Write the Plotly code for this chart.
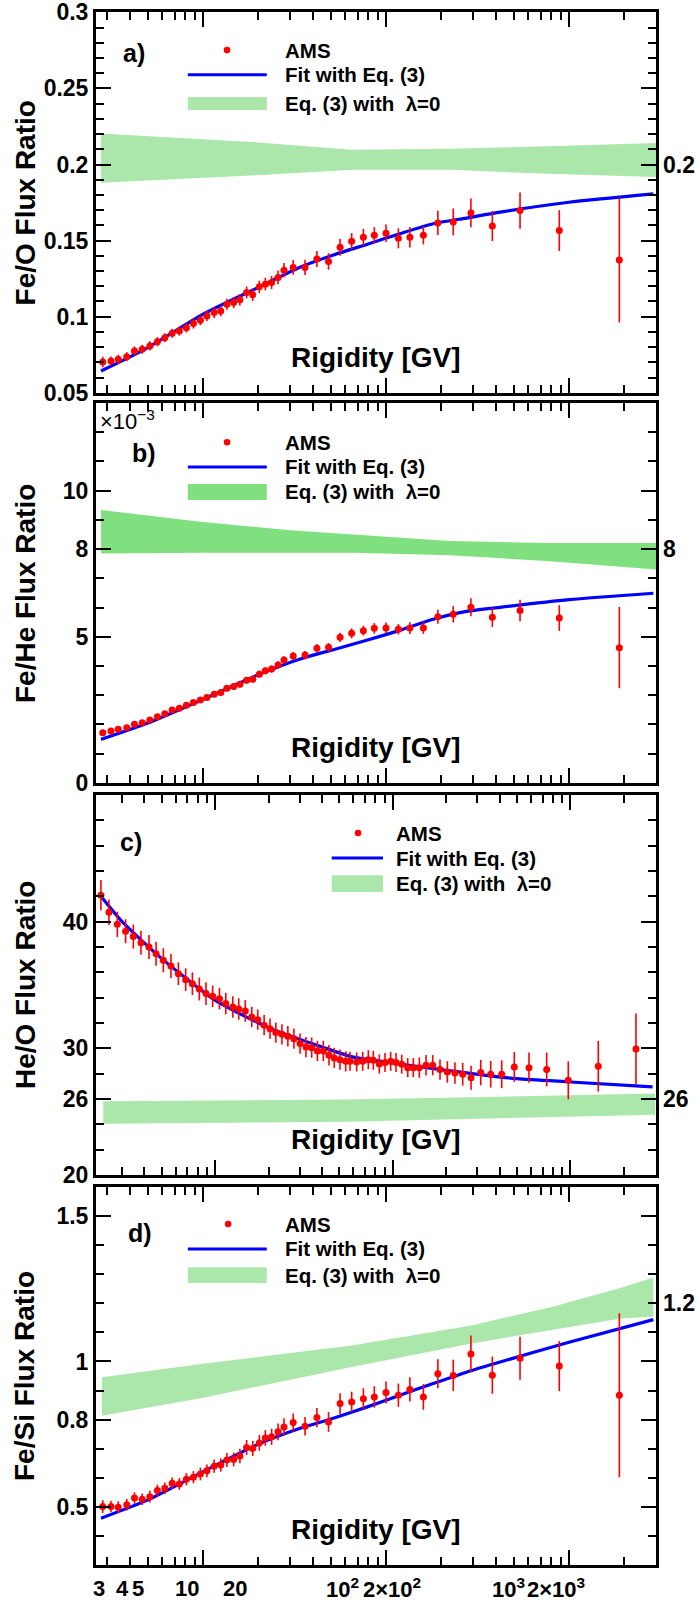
import plotly.graph_objects as go

FONT = "Liberation Sans, Arial, Helvetica, sans-serif"

# ---------------- data ----------------
# Rigidity bin centres (GV) for the Fe ratios (panels a, b, d)
rig_fe = [2.83, 3.14, 3.44, 3.83, 4.22, 4.65, 5.12, 5.63, 6.18, 6.78, 7.42, 8.11, 8.86, 9.67,
          10.5, 11.5, 12.5, 13.5, 14.7, 15.9, 17.3, 18.7, 20.3, 21.9, 23.7, 25.7, 27.7,
          31.1, 36.1, 41.9, 48.5, 56.1, 64.9, 75.2, 86.3, 100, 116.8, 135, 160, 192, 233,
          291, 381, 540, 885, 1884]

fe_o = [0.0702, 0.0709, 0.0720, 0.0737, 0.0775, 0.0786, 0.0808, 0.0836, 0.0862, 0.0891,
        0.0906, 0.0928, 0.0955, 0.0977, 0.1005, 0.1027, 0.1038, 0.1082, 0.1093, 0.1111,
        0.1159, 0.1144, 0.1196, 0.1214, 0.1225, 0.1258, 0.1306, 0.1324, 0.1324, 0.1379,
        0.1363, 0.1456, 0.1495, 0.1522, 0.1535, 0.1548, 0.1515, 0.1522, 0.1535, 0.1616,
        0.1623, 0.1682, 0.1596, 0.1697, 0.1566, 0.1372]
fe_o_err = [0.0035, 0.003, 0.003, 0.003, 0.003, 0.003, 0.003, 0.003, 0.003, 0.003, 0.003,
            0.0032, 0.0033, 0.0033, 0.0034, 0.0035, 0.0035, 0.0036, 0.0037, 0.0038, 0.0039,
            0.004, 0.0041, 0.0042, 0.0043, 0.0045, 0.0047, 0.0048, 0.005, 0.0052, 0.0054,
            0.0056, 0.0055, 0.0055, 0.0053, 0.0058, 0.0066, 0.0068, 0.006, 0.008, 0.0088,
            0.0095, 0.0099, 0.0119, 0.0134, 0.041]

fe_he_e3 = [1.718, 1.775, 1.833, 1.890, 2.005, 2.062, 2.153, 2.268, 2.371, 2.497, 2.554,
            2.658, 2.749, 2.841, 2.921, 3.035, 3.093, 3.242, 3.299, 3.379, 3.517, 3.551,
            3.723, 3.837, 3.895, 4.032, 4.204, 4.341, 4.376, 4.605, 4.639, 4.983, 5.12, 5.21,
            5.29, 5.30, 5.26, 5.30, 5.30, 5.69, 5.77, 6.01, 5.67, 5.90, 5.64, 4.63]
fe_he_err_e3 = [0.10, 0.09, 0.09, 0.09, 0.09, 0.09, 0.09, 0.09, 0.09, 0.09, 0.09, 0.10, 0.10,
                0.10, 0.10, 0.10, 0.10, 0.11, 0.11, 0.11, 0.11, 0.12, 0.12, 0.12, 0.12, 0.13,
                0.13, 0.14, 0.14, 0.15, 0.15, 0.16, 0.17, 0.17, 0.18, 0.19, 0.18, 0.20, 0.20,
                0.24, 0.28, 0.31, 0.33, 0.37, 0.44, 1.39]

fe_si = [0.501, 0.501, 0.499, 0.507, 0.530, 0.526, 0.535, 0.556, 0.564, 0.581, 0.579, 0.595,
         0.602, 0.613, 0.624, 0.640, 0.644, 0.661, 0.663, 0.675, 0.704, 0.701, 0.720, 0.737,
         0.741, 0.758, 0.775, 0.790, 0.777, 0.807, 0.792, 0.855, 0.861, 0.872, 0.878, 0.893,
         0.884, 0.904, 0.878, 0.958, 0.952, 1.026, 0.953, 1.011, 0.984, 0.884]
fe_si_err = [0.022, 0.02, 0.02, 0.02, 0.02, 0.02, 0.02, 0.02, 0.02, 0.02, 0.02, 0.021, 0.021,
             0.022, 0.022, 0.023, 0.023, 0.024, 0.024, 0.025, 0.026, 0.026, 0.027, 0.027,
             0.028, 0.029, 0.03, 0.031, 0.032, 0.033, 0.034, 0.036, 0.035, 0.036, 0.037,
             0.038, 0.04, 0.042, 0.044, 0.05, 0.054, 0.063, 0.064, 0.074, 0.086, 0.282]

# He/O uses the finer binning (panel c)
rig_heo = [2.28, 2.53, 2.82, 3.14, 3.47, 3.83, 4.25, 4.66, 5.12, 5.65, 6.22, 6.84, 7.46, 8.16,
           8.90, 9.70, 10.6, 11.5, 12.6, 13.6, 14.8, 16.1, 17.4, 18.9, 20.4, 22.0, 23.8, 25.7,
           27.8, 30.1, 32.5, 35.0, 37.7, 40.7, 43.8, 46.9, 50.5, 54.4, 57.5, 62.7, 67.8, 72.9,
           77.8, 84.1, 90.5, 97.4, 104.4, 112.4, 121.5, 130.6, 141.2, 154, 168, 184.6, 203,
           224, 247.7, 276, 313, 356, 410.6, 483.4, 584.8, 735.6, 973, 1435, 2339]
he_o = [42.08, 40.74, 39.79, 39.24, 38.82, 38.34, 38.0, 37.47, 36.95, 36.5, 35.89, 35.42,
        35.1, 34.68, 34.32, 34.1, 33.92, 33.53, 33.26, 33.1, 32.95, 32.47, 32.26, 31.82, 31.55,
        31.24, 31.1, 30.95, 30.76, 30.37, 30.1, 30.05, 29.79, 29.79, 29.45, 29.24, 29.1, 28.97,
        28.97, 28.92, 28.97, 29.1, 29.05, 28.76, 28.87, 28.97, 28.87, 28.74, 28.47, 28.47,
        28.47, 28.66, 28.66, 28.32, 28.13, 28.05, 27.95, 27.68, 28.08, 27.95, 27.95, 28.53,
        28.47, 28.32, 27.47, 28.58, 29.95]
he_o_err = [1.2, 1.0, 1.0, 0.95, 0.95, 0.95, 0.95, 0.95, 0.95, 0.95, 0.9, 0.9, 0.9, 0.9, 0.9,
            0.85, 0.85, 0.85, 0.85, 0.85, 0.85, 0.8, 0.8, 0.8, 0.8, 0.8, 0.8, 0.8, 0.8, 0.8,
            0.8, 0.8, 0.8, 0.8, 0.8, 0.8, 0.8, 0.8,
            0.75, 0.75, 0.75, 0.75, 0.75, 0.75, 0.75, 0.75, 0.75, 0.75, 0.75, 0.75, 0.8, 0.8,
            0.8, 0.8, 0.85, 0.85, 0.9, 0.95, 1.0, 1.05, 1.1, 1.18, 1.2, 1.34, 1.5, 2.0, 2.8]

# Fits with Eq. (3)
fit_rig = [2.77, 5, 10, 20, 33.9, 51.5, 78.4, 119, 181, 275, 420, 1000, 2890]
fit_fe_o = [0.0643, 0.0797, 0.1016, 0.1192, 0.1325, 0.1405, 0.1475, 0.1545, 0.1611, 0.1648,
            0.1687, 0.1752, 0.1807]
fit_fe_he_e3 = [1.49, 2.05, 2.86, 3.70, 4.24, 4.56, 4.88, 5.22, 5.60, 5.87, 6.01, 6.27, 6.49]
fit_fe_si = [0.461, 0.524, 0.621, 0.715, 0.770, 0.805, 0.843, 0.884, 0.924, 0.963, 0.998,
             1.066, 1.144]
fit_rig_heo = [2.28, 3, 5, 10, 20, 40, 60, 100, 200, 500, 1000, 2900]
fit_he_o = [42.0, 40.0, 37.1, 33.8, 31.63, 30.1, 29.3, 28.84, 28.26, 27.6, 27.34, 26.95]

# Eq. (3) with lambda = 0 (bands: upper / lower edges)
band_rig_a = [2.77, 20, 65, 224, 787, 3000]
band_fe_o_hi = [0.2203, 0.2145, 0.2097, 0.2104, 0.212, 0.2141]
band_fe_o_lo = [0.188, 0.193, 0.1965, 0.1965, 0.1939, 0.1917]
band_rig_b = [2.77, 10, 30, 65, 224, 787, 3000]
band_fe_he_hi_e3 = [9.34, 8.93, 8.65, 8.51, 8.28, 8.21, 8.21]
band_fe_he_lo_e3 = [7.85, 7.88, 7.88, 7.88, 7.79, 7.59, 7.30]
band_rig_c = [2.35, 55, 3000]
band_he_o_hi = [25.82, 25.95, 26.42]
band_he_o_lo = [24.05, 24.2, 24.76]
band_rig_d = [2.8, 10, 65, 288, 787, 1884, 2890]
band_fe_si_hi = [0.946, 0.992, 1.055, 1.123, 1.186, 1.252, 1.289]
band_fe_si_lo = [0.813, 0.875, 0.981, 1.061, 1.107, 1.147, 1.155]

# ---------------- styling ----------------
RED = "#FF0000"
BLUE = "#0000FF"
GREEN_LIGHT = "#ABE7AB"
GREEN_B = "#80E080"
TICK_SIZE = 23
LEG_SIZE = 20.5

panels = [
    dict(n=1, rig=rig_fe, y=fe_o, err=fe_o_err, frig=fit_rig, fy=fit_fe_o,
         brig=band_rig_a, bhi=band_fe_o_hi, blo=band_fe_o_lo, green=GREEN_LIGHT,
         dom=[0.7547, 1.0], yr=[0.0499, 0.3002], xr=[0.4150, 3.4754],
         ytv=[0.05, 0.1, 0.15, 0.2, 0.25, 0.3], ytt=["0.05", "0.1", "0.15", "0.2", "0.25", "0.3"],
         ydt=0.01, title="Fe/O Flux Ratio", tag="a)", tagx=0.068, tagy=0.892,
         right=("0.2", 0.2),
         leg=dict(mx=0.234, lx0=0.164, lx1=0.305, tx=0.334, rows=[0.900, 0.835, 0.760],
                  b0=0.743, b1=0.777)),
    dict(n=2, rig=rig_fe, y=fe_he_e3, err=fe_he_err_e3, frig=fit_rig, fy=fit_fe_he_e3,
         brig=band_rig_b, bhi=band_fe_he_hi_e3, blo=band_fe_he_lo_e3, green=GREEN_B,
         dom=[0.5035, 0.7482], yr=[-0.005, 13], xr=[0.4150, 3.4754],
         ytv=[0, 5, 8, 10], ytt=["0", "5", "8", "10"],
         ydt=1, title="Fe/He Flux Ratio", tag="b)", tagx=0.086, tagy=0.868,
         right=("8", 8),
         leg=dict(mx=0.234, lx0=0.164, lx1=0.305, tx=0.334, rows=[0.897, 0.832, 0.766],
                  b0=0.745, b1=0.787)),
    dict(n=3, rig=rig_heo, y=he_o, err=he_o_err, frig=fit_rig_heo, fy=fit_he_o,
         brig=band_rig_c, bhi=band_he_o_hi, blo=band_he_o_lo, green=GREEN_LIGHT,
         dom=[0.2511, 0.4958], yr=[19.99, 50], xr=[0.3303, 3.4817],
         ytv=[20, 26, 30, 40], ytt=["20", "26", "30", "40"],
         ydt=2, title="He/O Flux Ratio", tag="c)", tagx=0.0625, tagy=0.876,
         right=("26", 26),
         leg=dict(mx=0.468, lx0=0.421, lx1=0.5125, tx=0.532, rows=[0.900, 0.834, 0.767],
                  b0=0.745, b1=0.789)),
    dict(n=4, rig=rig_fe, y=fe_si, err=fe_si_err, frig=fit_rig, fy=fit_fe_si,
         brig=band_rig_d, bhi=band_fe_si_hi, blo=band_fe_si_lo, green=GREEN_LIGHT,
         dom=[0.0, 0.2434], yr=[0.3, 1.6], xr=[0.4150, 3.4754],
         ytv=[0.5, 0.8, 1.0, 1.5], ytt=["0.5", "0.8", "1", "1.5"],
         ydt=0.1, title="Fe/Si Flux Ratio", tag="d)", tagx=0.079, tagy=0.878,
         right=("1.2", 1.2),
         leg=dict(mx=0.236, lx0=0.164, lx1=0.305, tx=0.334, rows=[0.902, 0.836, 0.767],
                  b0=0.746, b1=0.788)),
]

minor_x = [m * 10 ** e for e in range(0, 4) for m in range(2, 10)]

fig = go.Figure()
annotations = []
shapes = []

PLOT_W = 698 - 96 - 42
PLOT_H = 1602 - 12 - 37
for p in panels:
    n = p["n"]
    s = "" if n == 1 else str(n)
    xa, ya = "x" + s, "y" + s

    # band
    fig.add_trace(go.Scatter(
        x=p["brig"] + p["brig"][::-1], y=p["bhi"] + p["blo"][::-1],
        fill="toself", fillcolor=p["green"], mode="lines", line=dict(width=0),
        hoverinfo="skip", showlegend=False, xaxis=xa, yaxis=ya))
    # fit
    fig.add_trace(go.Scatter(
        x=p["frig"], y=p["fy"], mode="lines",
        line=dict(color=BLUE, width=3.2, shape="spline", smoothing=0.6),
        showlegend=False, xaxis=xa, yaxis=ya))
    # data
    fig.add_trace(go.Scatter(
        x=p["rig"], y=p["y"], mode="markers",
        marker=dict(color=RED, size=7),
        error_y=dict(type="data", array=p["err"], visible=True, color=RED,
                     thickness=1.6, width=0),
        showlegend=False, xaxis=xa, yaxis=ya))

    xkw = dict(type="log", range=p["xr"], domain=[0, 1], anchor=ya, automargin=False,
               showline=True, linewidth=3, linecolor="black", mirror="allticks",
               ticks="inside", ticklen=15, tickwidth=2, tickcolor="black",
               tickvals=[10, 100, 1000], showticklabels=False, showgrid=False,
               zeroline=False,
               minor=dict(tickmode="array", tickvals=minor_x, ticks="inside",
                          ticklen=8, tickwidth=2, tickcolor="black", showgrid=False))
    ykw = dict(range=p["yr"], domain=p["dom"], anchor=xa, automargin=False,
               showline=True, linewidth=3, linecolor="black", mirror="allticks",
               ticks="inside", ticklen=15, tickwidth=2, tickcolor="black",
               tickmode="array", tickvals=p["ytv"], ticktext=p["ytt"],
               ticklabeloverflow="allow",
               tickfont=dict(family=FONT, size=TICK_SIZE, color="black", weight="bold"),
               showgrid=False, zeroline=False,
               minor=dict(tickmode="linear", tick0=0, dtick=p["ydt"], ticks="inside",
                          ticklen=8, tickwidth=2, tickcolor="black", showgrid=False))
    fig.update_layout(**{"xaxis" + s: xkw, "yaxis" + s: ykw})

    xd, yd = xa + " domain", ya + " domain"
    annotations.append(dict(text=p["title"], xref="paper", yref=yd, x=-0.1268, y=0.5,
                            xanchor="center", yanchor="middle", textangle=-90,
                            showarrow=False,
                            font=dict(family=FONT, size=28, color="black", weight="bold")))
    annotations.append(dict(text="Rigidity [GV]", xref=xd, yref=yd, x=0.5, y=0.093,
                            xanchor="center", yanchor="middle", showarrow=False,
                            font=dict(family=FONT, size=28, color="black", weight="bold")))
    annotations.append(dict(text=p["tag"], xref=xd, yref=yd, x=p["tagx"], y=p["tagy"],
                            xanchor="center", yanchor="middle", showarrow=False,
                            font=dict(family=FONT, size=25, color="black", weight="bold")))
    annotations.append(dict(text=p["right"][0], xref=xd, yref=ya, x=1.0, y=p["right"][1],
                            xanchor="left", yanchor="middle", xshift=5, showarrow=False,
                            font=dict(family=FONT, size=TICK_SIZE, color="black",
                                      weight="bold")))
    # legend (drawn by hand to match the original symbol sizes)
    lg = p["leg"]
    ph = (p["dom"][1] - p["dom"][0]) * PLOT_H
    rx, ry = 3.3 / PLOT_W, 3.3 / ph
    shapes.append(dict(type="circle", xref=xd, yref=yd, x0=lg["mx"] - rx, x1=lg["mx"] + rx,
                       y0=lg["rows"][0] - ry, y1=lg["rows"][0] + ry,
                       fillcolor=RED, line=dict(width=0)))
    shapes.append(dict(type="line", xref=xd, yref=yd, x0=lg["lx0"], x1=lg["lx1"],
                       y0=lg["rows"][1], y1=lg["rows"][1], line=dict(color=BLUE, width=3)))
    shapes.append(dict(type="rect", xref=xd, yref=yd, x0=lg["lx0"], x1=lg["lx1"],
                       y0=lg["b0"], y1=lg["b1"], fillcolor=p["green"], line=dict(width=0)))
    for txt, yy in zip(["AMS", "Fit with Eq. (3)", "Eq. (3) with  λ=0"], lg["rows"]):
        annotations.append(dict(text=txt, xref=xd, yref=yd, x=lg["tx"], y=yy,
                                xanchor="left", yanchor="middle", showarrow=False,
                                font=dict(family=FONT, size=LEG_SIZE, color="black",
                                          weight="bold")))

annotations.append(dict(text="×10<sup>−3</sup>", xref="x2 domain", yref="y2 domain",
                        x=0.004, y=0.955, xanchor="left", yanchor="middle", showarrow=False,
                        font=dict(family=FONT, size=22, color="black")))

# bottom x tick labels, placed where the original figure prints them
xlab_text = ["3", "4", "5", "10", "20", "10<sup>2</sup>", "2×10<sup>2</sup>",
             "10<sup>3</sup>", "2×10<sup>3</sup>"]
xlab_px = [99, 122, 138, 187, 235, 342, 392, 508, 556]
for t, px in zip(xlab_text, xlab_px):
    annotations.append(dict(text=t, xref="paper", yref="paper", x=(px - 96) / PLOT_W,
                            y=-(1588 - 1565) / PLOT_H, xanchor="center",
                            yanchor="middle", showarrow=False,
                            font=dict(family=FONT, size=22, color="black", weight="bold")))

fig.update_layout(
    width=698, height=1602, autosize=False,
    margin=dict(l=96, r=42, t=12, b=37, autoexpand=False),
    paper_bgcolor="white", plot_bgcolor="white",
    showlegend=False,
    annotations=annotations, shapes=shapes,
    font=dict(family=FONT, color="black"),
)

fig.write_html("out.html", config={"displayModeBar": False},
               post_script="document.body.style.margin='0px';document.body.style.overflow='hidden';")
